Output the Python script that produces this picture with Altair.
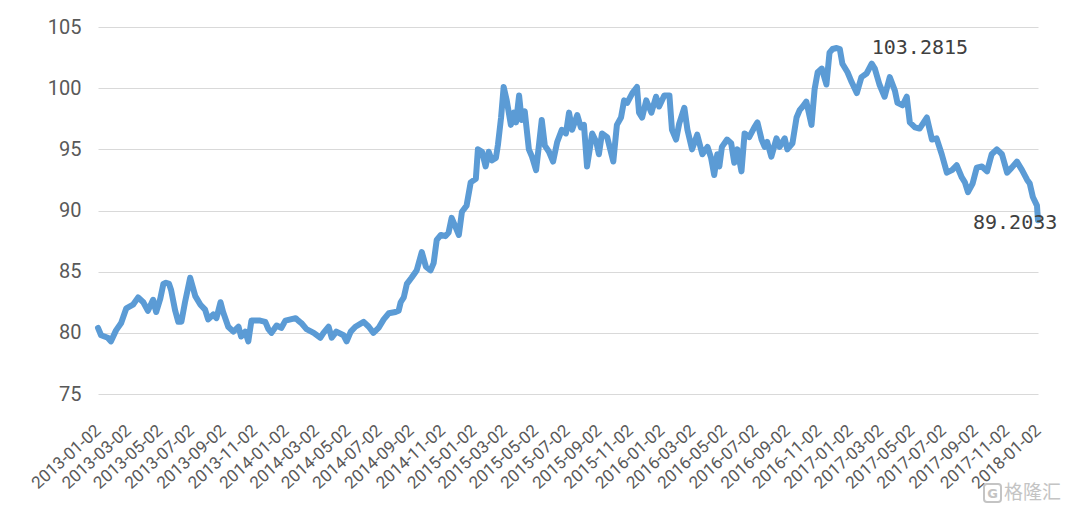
import altair as alt
import pandas as pd

dates = [
"2013-01-02","2013-01-08","2013-01-21","2013-01-27","2013-02-06","2013-02-16","2013-02-26","2013-03-11","2013-03-21","2013-03-31",
"2013-04-09","2013-04-19","2013-04-25","2013-05-03","2013-05-09","2013-05-14","2013-05-20","2013-05-24","2013-06-01","2013-06-07",
"2013-06-13","2013-06-20","2013-06-30","2013-07-10","2013-07-20","2013-07-29","2013-08-04","2013-08-14","2013-08-20","2013-08-28",
"2013-09-02","2013-09-12","2013-09-22","2013-10-02","2013-10-07","2013-10-15","2013-10-21","2013-10-27","2013-11-04","2013-11-13",
"2013-11-23","2013-11-29","2013-12-05","2013-12-15","2013-12-24","2014-01-01","2014-01-11","2014-01-21","2014-01-26","2014-02-01",
"2014-02-11","2014-02-25","2014-03-10","2014-03-16","2014-03-26","2014-04-01","2014-04-10","2014-04-24","2014-04-30","2014-05-08",
"2014-05-17","2014-06-02","2014-06-12","2014-06-21","2014-07-01","2014-07-11","2014-07-21","2014-08-03","2014-08-09","2014-08-13",
"2014-08-19","2014-08-25","2014-09-03","2014-09-13","2014-09-23","2014-10-01","2014-10-10","2014-10-16","2014-10-22","2014-10-30",
"2014-11-08","2014-11-14","2014-11-20","2014-11-28","2014-12-04","2014-12-10","2014-12-19","2014-12-27","2015-01-06","2015-01-10",
"2015-01-18","2015-01-25","2015-01-31","2015-02-06","2015-02-14","2015-02-18","2015-02-24","2015-03-01","2015-03-07","2015-03-15",
"2015-03-21","2015-03-25","2015-03-31","2015-04-05","2015-04-11","2015-04-19","2015-04-25","2015-05-03","2015-05-09","2015-05-14",
"2015-05-20","2015-05-28","2015-06-05","2015-06-13","2015-06-22","2015-06-30","2015-07-06","2015-07-12","2015-07-22","2015-07-29",
"2015-08-04","2015-08-10","2015-08-20","2015-08-28","2015-09-02","2015-09-08","2015-09-18","2015-09-30","2015-10-07","2015-10-15",
"2015-10-21","2015-10-27","2015-11-06","2015-11-15","2015-11-19","2015-11-25","2015-12-03","2015-12-13","2015-12-22","2015-12-28",
"2016-01-07","2016-01-17","2016-01-22","2016-01-30","2016-02-05","2016-02-15","2016-02-21","2016-03-01","2016-03-11","2016-03-21",
"2016-03-31","2016-04-07","2016-04-13","2016-04-19","2016-04-23","2016-04-28","2016-05-08","2016-05-16","2016-05-22","2016-05-28",
"2016-06-05","2016-06-11","2016-06-20","2016-06-30","2016-07-06","2016-07-14","2016-07-20","2016-07-25","2016-08-02","2016-08-12",
"2016-08-18","2016-08-28","2016-09-02","2016-09-12","2016-09-20","2016-09-26","2016-10-02","2016-10-09","2016-10-19","2016-10-25",
"2016-10-31","2016-11-08","2016-11-17","2016-11-23","2016-11-29","2016-12-07","2016-12-13","2016-12-18","2016-12-28","2017-01-05",
"2017-01-15","2017-01-24","2017-02-03","2017-02-13","2017-02-19","2017-02-28","2017-03-10","2017-03-20","2017-03-30","2017-04-04",
"2017-04-14","2017-04-22","2017-04-28","2017-05-08","2017-05-17","2017-05-31","2017-06-10","2017-06-19","2017-06-29","2017-07-09",
"2017-07-19","2017-07-28","2017-08-07","2017-08-13","2017-08-19","2017-08-28","2017-09-05","2017-09-15","2017-09-25","2017-10-04",
"2017-10-14","2017-10-24","2017-11-03","2017-11-12","2017-11-22","2017-12-02","2017-12-12","2017-12-17","2017-12-23","2017-12-31",
"2018-01-02",
]

values = [
80.4,79.8,79.6,79.3,80.2,80.8,82.0,82.3,82.9,82.5,
81.8,82.7,81.7,82.8,84.0,84.1,84.0,83.5,81.8,80.9,
80.9,82.5,84.5,83.0,82.3,81.9,81.1,81.5,81.2,82.5,
81.7,80.5,80.1,80.5,79.7,80.1,79.3,81.0,81.0,81.0,
80.9,80.3,80.0,80.6,80.4,81.0,81.1,81.2,81.0,80.8,
80.3,80.0,79.6,80.0,80.5,79.6,80.1,79.8,79.3,80.1,
80.5,80.9,80.5,80.0,80.4,81.1,81.6,81.7,81.8,82.5,
82.9,84.0,84.5,85.1,86.6,85.4,85.1,85.7,87.6,88.0,
87.9,88.2,89.4,88.6,88.0,89.9,90.4,92.3,92.6,95.0,
94.8,93.6,94.8,94.1,94.3,95.4,97.6,100.1,99.0,97.0,
98.0,97.2,99.4,97.4,98.1,95.0,94.4,93.3,95.5,97.4,
95.3,94.8,94.0,95.6,96.6,96.3,98.0,96.6,97.8,96.8,
97.0,93.6,96.3,95.6,94.6,96.3,96.0,94.0,97.0,97.6,
99.0,98.8,99.6,100.1,98.0,97.6,99.0,98.0,99.3,98.5,
99.4,99.4,96.6,95.8,97.1,98.4,96.6,95.0,96.2,94.6,
95.2,94.3,92.9,94.6,93.6,95.2,95.8,95.5,93.9,95.0,
93.2,96.3,96.0,96.8,97.2,95.8,95.2,95.6,94.4,95.9,
95.2,95.9,95.0,95.5,97.6,98.2,98.5,98.9,97.0,99.9,
101.3,101.6,100.3,102.9,103.2,103.2815,103.2,102.0,101.3,100.5,
99.6,100.9,101.2,102.0,101.6,100.3,99.3,100.9,99.8,98.8,
98.6,99.3,97.2,96.8,96.7,97.6,95.8,95.9,94.6,93.1,
93.3,93.7,92.7,92.3,91.5,92.2,93.5,93.6,93.2,94.6,
95.0,94.6,93.1,93.5,94.0,93.3,92.5,92.2,91.1,90.4,
89.2033,
]

tick_dates = [
"2013-01-02","2013-03-02","2013-05-02","2013-07-02","2013-09-02","2013-11-02",
"2014-01-02","2014-03-02","2014-05-02","2014-07-02","2014-09-02","2014-11-02",
"2015-01-02","2015-03-02","2015-05-02","2015-07-02","2015-09-02","2015-11-02",
"2016-01-02","2016-03-02","2016-05-02","2016-07-02","2016-09-02","2016-11-02",
"2017-01-02","2017-03-02","2017-05-02","2017-07-02","2017-09-02","2017-11-02",
"2018-01-02",
]
y_ticks = [75, 80, 85, 90, 95, 100, 105]

label_dates = ["2016-12-07", "2018-01-02"]
label_values = [103.2815, 89.2033]
label_texts = ["103.2815", "89.2033"]

watermark = "格隆汇"

df = pd.DataFrame({"date": dates, "value": values})
df_lab = pd.DataFrame({"date": label_dates, "value": label_values, "text": label_texts})


def tick_dt(s):
    y, m, d = s.split("-")
    return alt.DateTime(year=int(y), month=int(m), date=int(d), utc=True)


x_scale = alt.Scale(type="utc", domain=[tick_dt("2013-01-02"), tick_dt("2018-01-02")])
y_scale = alt.Scale(domain=[75, 105], nice=False, zero=False)

x_axis = alt.Axis(
    values=[tick_dt(s) for s in tick_dates],
    format="%Y-%m-%d",
    labelAngle=-42,
    labelAlign="right",
    labelBaseline="middle",
    labelPadding=20,
    offset=14,
    labelFontSize=17,
    labelColor="#595959",
    labelFont="Roboto",
    ticks=False,
    domain=False,
    grid=False,
    gridOpacity=0,
    title=None,
    labelOverlap=False,
    labelBound=False,
    labelFlush=False,
)
y_axis = alt.Axis(
    values=y_ticks,
    ticks=False,
    domain=False,
    labelPadding=17,
    labelFontSize=20,
    labelColor="#595959",
    labelFont="Roboto",
    gridColor="#D9D9D9",
    gridWidth=1.2,
    title=None,
)

x_enc = alt.X("date:T", scale=x_scale, axis=x_axis)
y_enc = alt.Y("value:Q", scale=y_scale, axis=y_axis)

line = alt.Chart(df).mark_line(
    color="#5B9BD5", strokeWidth=6, strokeJoin="round", strokeCap="round"
).encode(x=x_enc, y=y_enc)

peak = alt.Chart(df_lab.iloc[[0]]).mark_text(
    align="left", baseline="middle", dx=35, dy=0,
    font="DejaVu Sans Mono", fontSize=20, color="#404040",
).encode(x=x_enc, y=y_enc, text="text:N")

last = alt.Chart(df_lab.iloc[[1]]).mark_text(
    align="left", baseline="middle", dx=-65, dy=3,
    font="DejaVu Sans Mono", fontSize=20, color="#404040",
).encode(x=x_enc, y=y_enc, text="text:N")

wm = alt.Chart(pd.DataFrame({"t": [watermark]})).mark_text(
    align="left", baseline="middle", font="Noto Sans CJK SC", fontSize=19,
    color="#C4C4C4",
).encode(x=alt.value(906), y=alt.value(466), text="t:N")

wm_box = alt.Chart(pd.DataFrame({"t": [watermark]})).mark_rect(
    stroke="#C4C4C4", strokeWidth=2, fill=None, cornerRadius=3,
).encode(x=alt.value(886), x2=alt.value(903), y=alt.value(457), y2=alt.value(475))

wm_icon = alt.Chart(pd.DataFrame({"t": ["G"]})).mark_text(
    align="center", baseline="middle", font="DejaVu Sans", fontSize=13, fontWeight="bold",
    color="#C4C4C4",
).encode(x=alt.value(894.5), y=alt.value(467), text="t:N")

chart = alt.layer(line, peak, last, wm_box, wm_icon, wm).properties(
    width=940, height=367,
    autosize=alt.AutoSizeParams(type="none"),
    padding={"left": 90, "top": 19, "right": 25, "bottom": 110},
    view=alt.ViewBackground(stroke="transparent", strokeWidth=0),
).configure_view(stroke=None, strokeWidth=0).configure_axisX(grid=False).configure(background="white")

chart.save("out.html", embed_options={"renderer": "svg", "actions": False})
